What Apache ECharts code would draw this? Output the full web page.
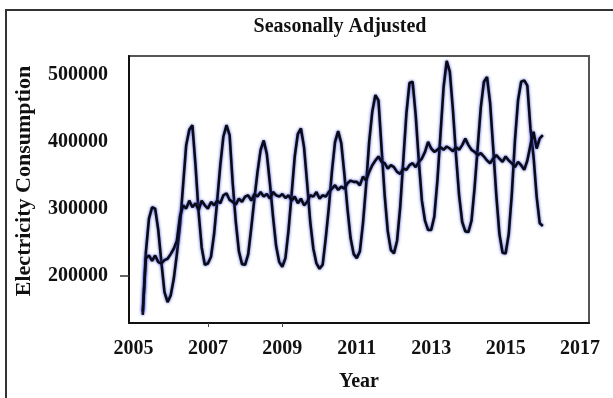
<!DOCTYPE html>
<html>
<head>
<meta charset="utf-8">
<script src="https://cdn.jsdelivr.net/npm/echarts@6/dist/echarts.min.js"></script>
<style>html,body{margin:0;padding:0;background:#fff}#c{width:613px;height:398px}</style>
</head>
<body>
<div id="c"></div>
<script>
// Monthly series, April 2005 to January 2016
const startYear = 2005;
const startMonth = 4;
const rawValues = [
  141000, 235000, 285000, 302000, 300000, 268000, 220000, 175000, 160000,
  170000, 195000, 232000, 275000, 335000, 395000, 418000, 425000, 365000, 295000, 242000, 216000,
  218000, 228000, 262000, 312000, 365000, 408000, 425000, 410000, 338000, 280000, 236000, 217000,
  216000, 232000, 272000, 315000, 355000, 388000, 402000, 382000, 338000, 288000, 244000, 220000,
  213000, 226000, 268000, 322000, 378000, 412000, 420000, 392000, 338000, 280000, 240000, 218000,
  210000, 216000, 256000, 302000, 356000, 400000, 416000, 398000, 352000, 300000, 256000, 232000,
  226000, 236000, 278000, 334000, 400000, 445000, 470000, 462000, 390000, 320000, 266000, 238000,
  233000, 252000, 302000, 372000, 442000, 488000, 490000, 440000, 372000, 312000, 282000, 268000,
  268000, 288000, 342000, 412000, 482000, 521000, 505000, 448000, 380000, 320000, 280000, 266000,
  265000, 282000, 332000, 392000, 452000, 490000, 497000, 458000, 390000, 320000, 262000, 234000,
  233000, 262000, 322000, 402000, 462000, 490000, 492000, 484000, 420000, 378000, 318000, 278000,
  274000
];
const adjustedValues = [
  146000, 226000, 230000, 222000, 230000, 220000, 218000, 223000, 225000,
  232000, 240000, 252000, 288000, 305000, 300000, 312000, 302000, 308000, 298000, 312000, 305000,
  300000, 310000, 305000, 312000, 308000, 320000, 323000, 313000, 310000, 306000, 315000, 310000,
  318000, 320000, 312000, 322000, 318000, 325000, 318000, 322000, 315000, 325000, 320000, 318000,
  322000, 316000, 320000, 312000, 318000, 308000, 315000, 305000, 310000, 320000, 318000, 325000,
  315000, 320000, 318000, 325000, 330000, 335000, 328000, 333000, 330000, 338000, 342000, 340000,
  340000, 335000, 348000, 342000, 355000, 365000, 372000, 378000, 370000, 368000, 360000, 365000,
  362000, 355000, 352000, 360000, 358000, 365000, 368000, 362000, 370000, 375000, 385000, 400000,
  390000, 385000, 388000, 392000, 388000, 393000, 390000, 386000, 392000, 388000, 395000, 405000,
  395000, 388000, 385000, 380000, 383000, 378000, 372000, 368000, 375000, 380000, 375000, 370000,
  378000, 372000, 368000, 362000, 370000, 365000, 358000, 372000, 395000, 415000, 390000, 405000,
  410000
];
const xTickLabels = [2005, 2007, 2009, 2011, 2013, 2015, 2017];
const yTickLabels = [200000, 300000, 400000, 500000];
const titleText = 'Seasonally Adjusted';
const xName = 'Year';
const yName = 'Electricity Consumption';

function toPairs(vals) {
  return vals.map((v, i) => [startYear + (startMonth - 1 + i) / 12, v]);
}

const font = '"Liberation Serif", "Times New Roman", serif';
const lineStyle = {
  color: '#0b0b18', width: 2.6,
  shadowColor: 'rgba(35,55,210,0.85)', shadowBlur: 3
};

const chart = echarts.init(document.getElementById('c'), null, {renderer: 'canvas'});
chart.setOption({
  animation: false,
  backgroundColor: '#ffffff',
  grid: {left: 129, top: 56, right: 24, bottom: 75, show: true, borderColor: '#555', borderWidth: 2},
  xAxis: {
    type: 'value', min: 2004.88, max: 2017.24,
    name: xName, nameLocation: 'middle', nameGap: 49,
    nameTextStyle: {fontFamily: font, fontWeight: 'bold', fontSize: 20, color: '#111'},
    axisLine: {show: true, onZero: false, lineStyle: {color: '#111', width: 2}},
    axisTick: {show: true, customValues: [2007, 2009], length: 4, lineStyle: {color: '#444', width: 1}},
    axisLabel: {customValues: xTickLabels, margin: 16, fontFamily: font, fontWeight: 'bold', fontSize: 20, color: '#111',
      formatter: v => String(Math.round(v))},
    splitLine: {show: false}
  },
  yAxis: {
    type: 'value', min: 128900, max: 528400,
    axisLine: {show: true, onZero: false, lineStyle: {color: '#111', width: 2}},
    axisTick: {show: true, customValues: [200000], length: 9, lineStyle: {color: '#333', width: 1.5}},
    axisLabel: {customValues: yTickLabels, margin: 21, fontFamily: font, fontWeight: 'bold', fontSize: 20, color: '#111',
      formatter: v => String(Math.round(v))},
    splitLine: {show: false}
  },
  graphic: [
    {type: 'rect', shape: {x: 6, y: 10, width: 700, height: 500}, style: {fill: 'none', stroke: '#333', lineWidth: 2}, silent: true},
    {type: 'text', x: 340, y: 27, style: {text: titleText, font: 'bold 20px ' + font, fill: '#111', align: 'center', verticalAlign: 'middle'}},
    {type: 'text', x: 24, y: 181, rotation: Math.PI / 2, style: {text: yName, font: 'bold 22px ' + font, fill: '#111', align: 'center', verticalAlign: 'middle'}}
  ],
  series: [
    {type: 'line', data: toPairs(rawValues), showSymbol: false, symbol: 'none', lineStyle: lineStyle, z: 3},
    {type: 'line', data: toPairs(adjustedValues), showSymbol: false, symbol: 'none', lineStyle: lineStyle, z: 4}
  ]
});
</script>
</body>
</html>
